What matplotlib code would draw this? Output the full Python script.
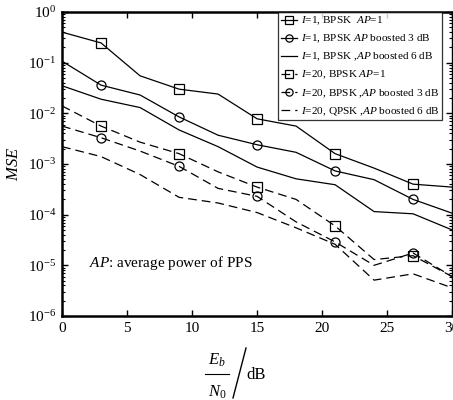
import matplotlib
matplotlib.use("Agg")
import matplotlib.pyplot as plt
from matplotlib.lines import Line2D
import numpy as np

plt.rcParams['font.family'] = ['Liberation Serif', 'DejaVu Serif']
plt.rcParams['mathtext.fontset'] = 'custom'
plt.rcParams['mathtext.rm'] = 'Liberation Serif'
plt.rcParams['mathtext.it'] = 'Liberation Serif:italic'
plt.rcParams['mathtext.bf'] = 'Liberation Serif:bold'

snr = [0, 3, 6, 9, 12, 15, 18, 21, 24, 27, 30]
marker_snr = [3, 9, 15, 21, 27]

mse_i1_ap1 = [0.40, 0.245, 0.055, 0.030, 0.024, 0.0078, 0.0056, 0.0016, 0.00083, 0.00040, 0.00035]
mse_i1_3db = [0.107, 0.036, 0.023, 0.0085, 0.0037, 0.0024, 0.0017, 0.00073, 0.00049, 0.00020, 0.000107]
mse_i1_6db = [0.035, 0.019, 0.013, 0.0047, 0.0022, 0.00087, 0.00051, 0.00039, 0.000115, 0.000104, 0.00005]
mse_i20_ap1 = [0.014, 0.0056, 0.0027, 0.0016, 0.0007, 0.00035, 0.0002, 0.00006, 1.3e-5, 1.55e-5, 6.0e-6]
mse_i20_3db = [0.0056, 0.0033, 0.0018, 0.0009, 0.00033, 0.00023, 7.2e-5, 2.9e-5, 1.0e-5, 1.75e-5, 6.0e-6]
mse_i20_6db = [0.0022, 0.0014, 0.00062, 0.00022, 0.00017, 0.00011, 5.5e-5, 2.6e-5, 5.1e-6, 6.8e-6, 3.6e-6]

labels = [r"$I$=1, BPSK  $AP$=1",
          r"$I$=1, BPSK $AP$ boosted 3 dB",
          r"$I$=1, BPSK ,$AP$ boosted 6 dB",
          r"$I$=20, BPSK $AP$=1",
          r"$I$=20, BPSK ,$AP$ boosted 3 dB",
          r"$I$=20, QPSK ,$AP$ boosted 6 dB"]

series = [mse_i1_ap1, mse_i1_3db, mse_i1_6db, mse_i20_ap1, mse_i20_3db, mse_i20_6db]
markers = ['s', 'o', None, 's', 'o', None]
styles = ['-', '-', '-', '--', '--', '--']

fig = plt.figure(figsize=(4.53, 4.00), dpi=100)
ax = fig.add_axes([0.137, 0.21, 0.861, 0.76])

for vals, mk, ls, lab in zip(series, markers, styles, labels):
    kw = dict(color='black', lw=0.9)
    if ls == '--':
        kw['dashes'] = (7, 4)
    else:
        kw['linestyle'] = '-'
    if mk is not None:
        idx = [snr.index(s) for s in marker_snr]
        kw.update(marker=mk, markevery=idx, markersize=7 if mk == 's' else 6.5,
                  markerfacecolor='none', markeredgecolor='black', markeredgewidth=0.9)
    ax.plot(snr, vals, label=lab, **kw)

ax.set_yscale('log')
ax.set_xlim(0, 30)
ax.set_ylim(1e-6, 1)
ax.set_xticks([0, 5, 10, 15, 20, 25, 30])
ax.set_yticks([1e-6, 1e-5, 1e-4, 1e-3, 1e-2, 1e-1, 1e0])
ax.set_yticklabels([r"$10^{-6}$", r"$10^{-5}$", r"$10^{-4}$", r"$10^{-3}$",
                    r"$10^{-2}$", r"$10^{-1}$", r"$10^{0}$"])
ax.yaxis.set_minor_locator(matplotlib.ticker.LogLocator(base=10, subs=np.arange(2, 10), numticks=20))
ax.yaxis.set_minor_formatter(matplotlib.ticker.NullFormatter())
ax.tick_params(which='major', direction='in', length=4, width=1, top=True, right=True,
               labelsize=11, pad=4)
ax.tick_params(which='minor', direction='in', length=2.5, width=0.8, top=True, right=True)
for side in ['left', 'bottom', 'top']:
    ax.spines[side].set_linewidth(1.8)
ax.spines['right'].set_linewidth(1.0)

ax.set_ylabel(r"$MSE$", fontsize=12, labelpad=4)

# x label drawn as a stacked fraction with a slash: (E_b / N_0) / dB
W, H = 453.0, 400.0
fig.text(217 / W, 1 - 360 / H, r"$E_b$", fontsize=12, ha='center', va='center')
fig.text(217 / W, 1 - 392 / H, r"$N_0$", fontsize=12, ha='center', va='center')
fig.add_artist(Line2D([205 / W, 229 / W], [1 - 374 / H, 1 - 374 / H], color='black', lw=0.8))
fig.add_artist(Line2D([233 / W, 246 / W], [1 - 398 / H, 1 - 348 / H], color='black', lw=1.0))
fig.text(246 / W, 1 - 375 / H, "dB", fontsize=12, ha='left', va='center')

ax.text(2.1, 10**-4.95, r"$AP$: average power of PPS", fontsize=11, va='center', ha='left')

leg = ax.legend(loc='upper right', bbox_to_anchor=(0.975, 1.0), borderaxespad=0,
                fontsize=8.1, frameon=True, fancybox=False, handlelength=1.5,
                handletextpad=0.3, labelspacing=0.5, borderpad=0.25, markerscale=0.8)
leg.get_frame().set_edgecolor('black')
leg.get_frame().set_linewidth(0.9)

fig.savefig("out.png", dpi=100)
